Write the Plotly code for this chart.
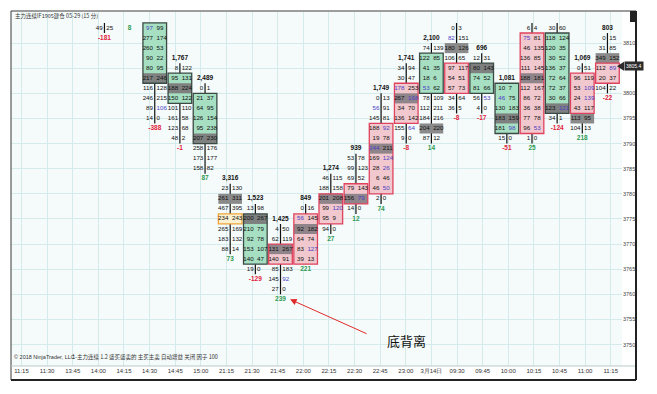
import plotly.graph_objects as go

# ---------------- data ----------------
times = ["11:15", "11:30", "13:45", "14:00", "14:15", "14:30", "14:45", "15:00",
         "21:15", "21:30", "21:45", "22:00", "22:15", "22:30", "22:45", "23:00",
         "3月14日", "09:30", "09:45", "10:00", "10:15", "10:45", "11:00", "11:15"]
price_ticks = [3750, 3755, 3760, 3765, 3770, 3775, 3780, 3785, 3790, 3795, 3800, 3805, 3810]
row_step = 2  # price per footprint row
last_price = 3805.4

bar_x = list(range(3, 24))
bar_total = [None, None, None, "1,767", "2,489", "3,316", "1,523", "1,425", "849", "1,274",
             "939", "1,749", "1,741", "2,100", None, "696", "1,081", None, None, "1,069", "803"]
bar_top = [3813, 3813, 3813, 3805, 3801, 3781, 3777, 3773, 3777, 3783, 3787, 3799, 3805,
           3809, 3813, 3807, 3801, 3813, 3813, 3805, 3811]
bar_bid = [[49], [], [97, 277, 260, 90, 80, 217, 116, 246, 89, 14],
           [8, 95, 188, 150, 101, 161, 123, 48], [0, 21, 64, 126, 95, 207, 258, 173, 158],
           [23, 261, 467, 234, 265, 183, 88], [13, 200, 210, 92, 153, 140, 19],
           [4, 62, 131, 140, 85, 145, 27], [0, 56, 92, 64, 83, 39], [46, 188, 201, 99, 95, 94],
           [53, 99, 69, 79, 156, 14], [0, 56, 145, 188, 19, 244, 169, 28, 6, 46, 2],
           [34, 30, 178, 267, 34, 136, 155, 9], [74, 122, 41, 18, 53, 78, 112, 184, 204, 87],
           [0, 82, 180, 106, 97, 54, 57, 34, 36], [12, 80, 74, 81, 56, 4],
           [10, 46, 130, 183, 181, 15], [6, 75, 46, 136, 111, 188, 112, 86, 36, 77, 96, 1],
           [30, 118, 120, 30, 136, 72, 72, 30, 123, 34], [0, 96, 53, 24, 43, 113, 104],
           [0, 31, 349, 112, 20, 104]]
bar_ask = [[25], [], [99, 174, 53, 22, 95, 246, 128, 215, 106, 0],
           [122, 131, 224, 122, 110, 58, 68, 2], [1, 37, 95, 154, 238, 230, 176, 177, 82],
           [130, 311, 395, 243, 169, 132, 14], [98, 267, 79, 78, 107, 47, 0],
           [50, 119, 267, 91, 183, 92, 0], [16, 145, 182, 74, 127, 13], [115, 158, 208, 120, 9, 0],
           [78, 123, 52, 143, 79, 0], [13, 91, 81, 92, 78, 211, 124, 26, 46, 50, 0],
           [94, 47, 253, 168, 70, 142, 64, 0], [139, 85, 35, 6, 62, 109, 211, 216, 220, 12],
           [3, 151, 126, 65, 117, 51, 73, 64, 5], [31, 143, 52, 66, 53, 0],
           [7, 75, 183, 159, 98, 0], [4, 81, 135, 85, 145, 181, 167, 72, 38, 78, 53, 0],
           [60, 124, 35, 52, 37, 64, 37, 66, 121, 1], [51, 119, 109, 139, 117, 95, 13],
           [15, 85, 152, 89, 37, 22]]
bar_delta = [-181, 8, -388, -1, 87, 73, -129, 239, 221, 27, 12, 74, -8, 14, -8, -17, -51,
             25, -124, 218, -22]

box_bar = [5, 6, 7, 8, 9, 10, 11, 12, 13, 14, 15, 16, 17, 18, 19, 20, 21, 22, 23]
box_hi = [3813, 3803, 3799, 3775, 3775, 3769, 3775, 3779, 3781, 3793, 3801, 3807, 3805,
          3805, 3801, 3811, 3811, 3803, 3805]
box_lo = [3803, 3799, 3791, 3775, 3767, 3767, 3767, 3775, 3779, 3781, 3795, 3801, 3801,
          3801, 3793, 3793, 3797, 3797, 3803]
box_kind = ["buy", "buy", "buy", "poc", "buy", "sell", "sell", "sell", "sell", "sell", "sell",
            "buy", "sell", "buy", "buy", "sell", "buy", "sell", "sell"]

dark_bar = [5, 6, 7, 8, 9, 10, 11, 12, 13, 14, 15, 16, 17, 18, 19, 20, 21, 22, 23]
dark_price = [3803, 3801, 3791, 3779, 3775, 3769, 3773, 3779, 3779, 3789, 3799, 3793, 3809,
              3805, 3795, 3803, 3797, 3795, 3807]

imb_bar = [5, 5, 10, 11, 11, 12, 13, 14, 14, 14, 14, 14, 14, 15, 15, 15, 16, 17, 18, 19, 19,
           20, 20, 21, 22, 22, 23]
imb_price = [3813, 3797, 3763, 3775, 3769, 3777, 3779, 3797, 3793, 3789, 3787, 3785, 3781,
             3801, 3799, 3793, 3801, 3811, 3799, 3799, 3793, 3811, 3793, 3797, 3801, 3799, 3805]
imb_side = ["L", "R", "R", "L", "R", "R", "R", "L", "R", "L", "R", "R", "R", "L", "R", "R",
            "L", "L", "R", "L", "R", "L", "R", "R", "R", "R", "R"]

# ---------------- geometry / style ----------------
W, H = 657, 394
PL, PR, PT, PB = 11, 622, 12, 366
X0_PX, DX_PX = 29.0, 25.15
LABEL0_PX, LABEL_DX_PX = 21.5, 25.62
Y0_PX, ROW_PX, TOP_PRICE = 28.0, 10.05, 3813

x_range = [(PL - X0_PX) / DX_PX, (PR - X0_PX) / DX_PX]
ppx = row_step / ROW_PX
y_range = [TOP_PRICE - (PB - Y0_PX) * ppx, TOP_PRICE + (Y0_PX - PT) * ppx]
label_pos = [(LABEL0_PX + LABEL_DX_PX * k - X0_PX) / DX_PX for k in range(len(times))]


def paper_x(px):
    return (px - PL) / (PR - PL)


def paper_y(py):
    return (PB - py) / (PB - PT)


def price_to_py(p):
    return Y0_PX + (TOP_PRICE - p) / ppx


FONT = "Liberation Sans Narrow, Liberation Sans, Arial, sans-serif"
FONT2 = "Liberation Sans, Arial, sans-serif"
BLUE = "#4b3fc4"
RED = "#e2223c"
GREEN = "#2e9a52"
HALF = 0.47
GAP = 0.07
NUM_SIZE = 6.2

shapes = []
# dividers
for bx, top, bids in zip(bar_x, bar_top, bar_bid):
    if bids:
        shapes.append(dict(type="line", xref="x", yref="y", x0=bx, x1=bx,
                           y0=top + row_step / 2, y1=top - row_step * (len(bids) - 0.5),
                           line=dict(color="#111111", width=1.2), layer="between"))

box_fill = {"buy": "#a6dfc2", "sell": "#f0c8cd", "poc": "#fbf0cf"}
box_line = {"buy": "#3b4a44", "sell": "#e0435e", "poc": "#f0a43a"}
for bx, hi, lo, kind in zip(box_bar, box_hi, box_lo, box_kind):
    shapes.append(dict(type="rect", xref="x", yref="y", x0=bx - HALF, x1=bx + HALF,
                       y0=hi + row_step / 2, y1=lo - row_step / 2,
                       fillcolor=box_fill[kind], line=dict(width=0), layer="between"))

for bx, p in zip(dark_bar, dark_price):
    kind = None
    for b2, hi, lo, k in zip(box_bar, box_hi, box_lo, box_kind):
        if b2 == bx and lo <= p <= hi:
            kind = k
    col = {"buy": "#7d807f", "sell": "#8f8489", None: "#8a8a8a", "poc": "#8a8a8a"}[kind]
    shapes.append(dict(type="rect", xref="x", yref="y", x0=bx - HALF, x1=bx + HALF,
                       y0=p + row_step / 2, y1=p - row_step / 2,
                       fillcolor=col, line=dict(width=0), layer="between"))

for bx, hi, lo, kind in zip(box_bar, box_hi, box_lo, box_kind):
    shapes.append(dict(type="rect", xref="x", yref="y", x0=bx - HALF, x1=bx + HALF,
                       y0=hi + row_step / 2, y1=lo - row_step / 2,
                       fillcolor="rgba(0,0,0,0)", line=dict(color=box_line[kind], width=1.3),
                       layer="between"))

# frame
shapes.append(dict(type="rect", xref="paper", yref="paper", x0=paper_x(11), x1=paper_x(636),
                   y0=paper_y(380), y1=paper_y(11), line=dict(color="#3a3a3a", width=1),
                   fillcolor="rgba(0,0,0,0)", layer="above"))
shapes.append(dict(type="line", xref="paper", yref="paper", x0=paper_x(11), x1=paper_x(636),
                   y0=0, y1=0, line=dict(color="#b9c9c9", width=1)))
shapes.append(dict(type="line", xref="paper", yref="paper", x0=paper_x(636), x1=paper_x(636),
                   y0=paper_y(380), y1=paper_y(11), line=dict(color="#222222", width=2)))
shapes.append(dict(type="line", xref="paper", yref="paper", x0=paper_x(11), x1=paper_x(636),
                   y0=paper_y(380), y1=paper_y(380), line=dict(color="#222222", width=2)))
shapes.append(dict(type="rect", xref="paper", yref="paper", x0=paper_x(630), x1=paper_x(636),
                   y0=paper_y(22), y1=paper_y(11), fillcolor="#222222", line=dict(width=0)))
# last-price marker pointer
mk = paper_y(price_to_py(last_price))
shapes.append(dict(type="path", xref="paper", yref="paper",
                   path="M {a},{m} L {b},{t} L {b},{bb} Z".format(
                       a=paper_x(617), b=paper_x(624), m=mk, t=mk + 4.5 / 354, bb=mk - 4.5 / 354),
                   fillcolor="#2b2b2b", line=dict(width=0)))

# text collections
lx, ly, lt, lc = [], [], [], []
rx, ry, rt, rc = [], [], [], []
imb = set(zip(imb_bar, imb_price, imb_side))
for bx, top, bids, asks in zip(bar_x, bar_top, bar_bid, bar_ask):
    for k, (b, a) in enumerate(zip(bids, asks)):
        p = top - row_step * k
        lx.append(bx - GAP); ly.append(p); lt.append(str(b))
        lc.append(BLUE if (bx, p, "L") in imb else "#111111")
        rx.append(bx + GAP); ry.append(p); rt.append(str(a))
        rc.append(BLUE if (bx, p, "R") in imb else "#111111")

tx, ty, tt = [], [], []
for bx, top, tot in zip(bar_x, bar_top, bar_total):
    if tot:
        tx.append(bx); ty.append(top + row_step); tt.append(tot)

dx, dy, dt, dc = [], [], [], []
for bx, top, bids, d in zip(bar_x, bar_top, bar_bid, bar_delta):
    dx.append(bx); dy.append(top - row_step * len(bids)); dt.append(str(d))
    dc.append(RED if d < 0 else GREEN)

fig = go.Figure()
fig.add_trace(go.Scatter(x=lx, y=ly, text=lt, mode="text", textposition="middle left",
                         textfont=dict(family=FONT, size=NUM_SIZE, color=lc), hoverinfo="skip"))
fig.add_trace(go.Scatter(x=rx, y=ry, text=rt, mode="text", textposition="middle right",
                         textfont=dict(family=FONT, size=NUM_SIZE, color=rc), hoverinfo="skip"))
fig.add_trace(go.Scatter(x=tx, y=ty, text=tt, mode="text", textposition="middle center",
                         textfont=dict(family=FONT2, size=6.5, color="#111111", weight="bold"),
                         hoverinfo="skip"))
fig.add_trace(go.Scatter(x=dx, y=dy, text=dt, mode="text", textposition="middle center",
                         textfont=dict(family=FONT2, size=6.5, color=dc, weight="bold"),
                         hoverinfo="skip"))

annotations = [
    dict(xref="paper", yref="paper", x=paper_x(13), y=paper_y(16), xanchor="left",
         yanchor="middle", showarrow=False, text="主力连续IF1905建仓 05-29 (15 分)",
         font=dict(family="Noto Sans CJK SC", size=5.5, color="#333333")),
    dict(xref="paper", yref="paper", x=paper_x(12), y=paper_y(357), xanchor="left",
         yanchor="middle", showarrow=False, text="© 2018 NinjaTrader, LLC",
         font=dict(family=FONT2, size=5.5, color="#333333")),
    dict(xref="paper", yref="paper", x=paper_x(70), y=paper_y(357), xanchor="left",
         yanchor="middle", showarrow=False,
         text="1-主力连续 1.2 盛买盛卖的 主买主卖 自动增益 关闭 因子 100",
         font=dict(family="Noto Sans CJK SC", size=5.5, color="#333333")),
    dict(xref="paper", yref="paper", x=paper_x(407), y=paper_y(340), xanchor="center",
         yanchor="middle", showarrow=False, text="底背离",
         font=dict(family="Noto Sans CJK SC", size=13, color="#111111")),
    dict(xref="x", yref="y", x=bar_x[7] + 0.38, y=bar_top[7] - row_step * len(bar_bid[7]),
         ax=78, ay=35, text="", showarrow=True, arrowhead=2, arrowsize=1.3, arrowwidth=1,
         arrowcolor="#e02a2a"),
    dict(xref="paper", yref="paper", x=paper_x(624), y=mk, xanchor="left",
         yanchor="middle", showarrow=False, text=f"{last_price:.1f}", bgcolor="#2b2b2b",
         font=dict(family=FONT2, size=5, color="#ffffff"), borderpad=1),
]

fig.update_layout(
    width=W, height=H, margin=dict(l=PL, r=W - PR, t=PT, b=H - PB),
    paper_bgcolor="#ffffff", plot_bgcolor="#f5fafa", showlegend=False,
    shapes=shapes, annotations=annotations,
    xaxis=dict(range=x_range, tickvals=label_pos, ticktext=times,
               showgrid=True, gridcolor="#d5eaea", gridwidth=1, zeroline=False,
               ticks="", tickfont=dict(family=FONT2, size=6, color="#333333"), fixedrange=True),
    yaxis=dict(range=y_range, side="right", tickvals=price_ticks,
               ticktext=["" if abs(v - last_price) < 2 else str(v) for v in price_ticks],
               showgrid=True, gridcolor="#d5eaea",
               gridwidth=1, zeroline=False, ticks="",
               tickfont=dict(family=FONT2, size=5.5, color="#444444"), fixedrange=True),
)
fig.write_html("out.html")
